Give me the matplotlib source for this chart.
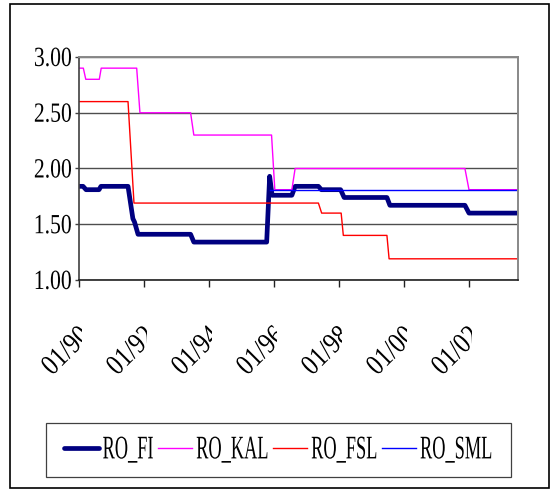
import matplotlib
matplotlib.use("Agg")
import matplotlib.pyplot as plt
from matplotlib.patches import Rectangle
from matplotlib.patheffects import AbstractPathEffect
from matplotlib.transforms import (Affine2D, Bbox, TransformedBbox,
                                   ScaledTranslation, blended_transform_factory)

# Month index counted from January 1990, with the rate values at each break
fi_months = [0, 1.5, 2.6, 7.4, 8.1, 18.1, 19.9, 20.5, 21.8, 41.2, 42.4,
             69.3, 70.4, 71.3, 78.6, 79.8, 88.4, 89.5, 96.6, 97.9,
             113.7, 114.8, 142.5, 144.0, 162.2]
fi_values = [1.84, 1.84, 1.81, 1.81, 1.84, 1.84, 1.55, 1.52, 1.41, 1.41, 1.34,
             1.34, 1.93, 1.76, 1.76, 1.84, 1.84, 1.81, 1.81, 1.74,
             1.74, 1.67, 1.67, 1.60, 1.60]

kal_months = [0, 1.6, 2.5, 7.5, 8.2, 21.3, 22.5, 41.2, 42.4, 71.1, 72.3,
              78.6, 79.8, 142.5, 144.0, 162.2]
kal_values = [2.90, 2.90, 2.80, 2.80, 2.90, 2.90, 2.50, 2.50, 2.30, 2.30, 1.81,
              1.81, 2.00, 2.00, 1.81, 1.81]

fsl_months = [0, 18.1, 20.3, 88.4, 89.6, 96.8, 97.6, 113.7, 114.5, 162.2]
fsl_values = [2.60, 2.60, 1.69, 1.69, 1.60, 1.60, 1.40, 1.40, 1.19, 1.19]

sml_months = [70.5, 162.2]
sml_values = [1.81, 1.81]

series_names = ["RO_FI", "RO_KAL", "RO_FSL", "RO_SML"]
tick_months = [0, 24, 48, 72, 96, 120, 144]
tick_labels = ["01/90", "01/92", "01/94", "01/96", "01/98", "01/00", "01/02"]
y_ticks = [1.0, 1.5, 2.0, 2.5, 3.0]
y_labels = ["1.00", "1.50", "2.00", "2.50", "3.00"]


class Stretch(AbstractPathEffect):
    """Draw text taller than its natural proportions (narrow-looking type)."""

    def __init__(self, sy, offset=(0, 0)):
        super().__init__(offset)
        self._sy = sy

    def draw_path(self, renderer, gc, tpath, affine, rgbFace=None):
        ext = tpath.get_extents()
        cy = 0.5 * (ext.y0 + ext.y1)
        pre = Affine2D().translate(0, -cy).scale(1, self._sy).translate(0, cy)
        renderer.draw_path(gc, tpath, pre + affine + self._offset_transform(renderer),
                           rgbFace)


SERIF = "Liberation Serif"

fig = plt.figure(figsize=(5.5, 4.91), dpi=100)
ax = fig.add_axes([79 / 550, 1 - 280 / 491, 439 / 550, 223 / 491])

ax.plot(fi_months, fi_values, color="#000080", lw=3.4,
        solid_capstyle="round", solid_joinstyle="round", label=series_names[0])
ax.plot(kal_months, kal_values, color="#FF00FF", lw=1.0, label=series_names[1])
ax.plot(fsl_months, fsl_values, color="#FF0000", lw=1.0, label=series_names[2])
ax.plot(sml_months, sml_values, color="#0000FF", lw=1.0, label=series_names[3])

ax.set_xlim(0, 162.1)
ax.set_ylim(1.0, 3.0)

ax.set_yticks(y_ticks, y_labels)
ax.yaxis.grid(True, color="#4d4d4d", lw=1.0)
ax.set_axisbelow(True)

for side in ("top", "right"):
    ax.spines[side].set_color("#888888")
    ax.spines[side].set_linewidth(1.4)
ax.spines["left"].set_color("#404040")
ax.spines["bottom"].set_color("#202020")
ax.spines["left"].set_linewidth(1.2)
ax.spines["bottom"].set_linewidth(1.2)

ax.tick_params(axis="y", length=3, width=1, pad=2.2, labelsize=15.6,
               color="#404040")
ax.tick_params(axis="x", length=5, width=1, pad=63.4, labelsize=17.5,
               color="#202020")

ax.set_xticks(tick_months, tick_labels)

for lbl in ax.get_yticklabels():
    lbl.set_fontfamily(SERIF)
    lbl.set_path_effects([Stretch(1.28)])

clip_trans = blended_transform_factory(ax.transData, fig.transFigure)
for m, lbl in zip(tick_months, ax.get_xticklabels()):
    lbl.set_fontfamily(SERIF)
    lbl.set_rotation(45)
    lbl.set_rotation_mode("anchor")
    lbl.set_ha("left")
    lbl.set_va("baseline")
    lbl.set_path_effects([Stretch(1.2)])
    lbl.set_transform(lbl.get_transform()
                      + ScaledTranslation(-0.28, 0, fig.dpi_scale_trans))
    # each date label is cut at the edge of its own category slot
    lbl.set_clip_box(TransformedBbox(Bbox([[m - 40, 0], [m + 1.1, 1]]), clip_trans))
    lbl.set_clip_on(True)

leg = fig.legend(loc="center", bbox_to_anchor=(0.5064, 0.0835), ncol=4,
                 prop={"family": SERIF, "size": 13.2},
                 frameon=True, fancybox=False, shadow=False, framealpha=1,
                 edgecolor="#404040", borderpad=1.0, handlelength=1.87,
                 handletextpad=0.22, columnspacing=0.22, borderaxespad=0)
leg.get_frame().set_linewidth(0.9)
for t in leg.get_texts():
    t.set_path_effects([Stretch(1.8)])

fig.add_artist(Rectangle((10 / 550, 3 / 491), 538.5 / 550, 484 / 491,
                         transform=fig.transFigure, fill=False,
                         edgecolor="black", lw=1.2))

fig.savefig("out.png", dpi=100, facecolor="white")
